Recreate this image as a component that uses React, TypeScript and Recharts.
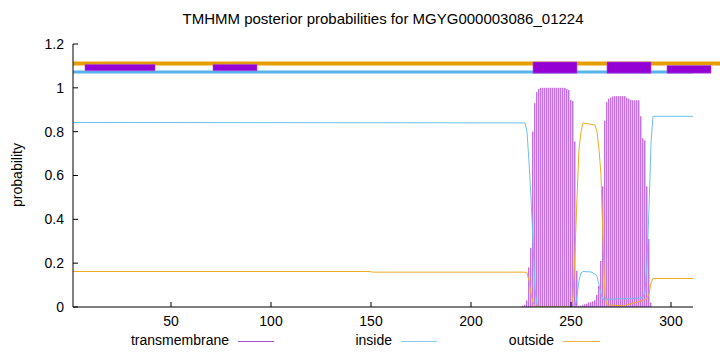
import { ComposedChart, Bar, Line, XAxis, YAxis, ReferenceArea } from 'recharts'

const TITLE = 'TMHMM posterior probabilities for MGYG000003086_01224'
const SEQ_LENGTH = 311
const xTicks = [50, 100, 150, 200, 250, 300]
const yTicks = [0, 0.2, 0.4, 0.6, 0.8, 1, 1.2]

// transmembrane posterior, one value per residue starting at TM_START
const TM_START = 226
const tmProb = [
  0.005, 0.01, 0.03, 0.18, 0.27, 0.8, 0.93, 0.98, 0.995,
  1, 1, 1, 1, 1, 1, 1, 1, 1, 1, 1, 1, 1,
  0.995, 0.99, 0.945, 0.94, 0.755, 0.165,
  0.004, 0.006, 0.01, 0.012, 0.015, 0.02, 0.022, 0.025, 0.03,
  0.055, 0.095, 0.21, 0.55, 0.85,
  0.935, 0.95, 0.955, 0.96,
  0.962, 0.962, 0.962, 0.962, 0.962, 0.962,
  0.955, 0.95, 0.945,
  0.943, 0.943, 0.943, 0.943,
  0.87, 0.77, 0.76, 0.55, 0.31, 0.02,
]

// inside / outside curves (residue, probability)
const insidePos = [1, 227, 228, 229, 230, 231, 232, 233, 234, 252, 253, 254, 255, 256, 260, 262, 263, 264, 265, 266, 284, 286, 287, 288, 289, 290, 291, 311]
const insideProb = [0.842, 0.84, 0.8, 0.66, 0.5, 0.3, 0.08, 0.01, 0, 0, 0.05, 0.12, 0.155, 0.162, 0.16, 0.15, 0.14, 0.1, 0.06, 0.035, 0.04, 0.045, 0.07, 0.2, 0.45, 0.75, 0.87, 0.87]

const outsidePos = [1, 149, 151, 227, 228, 229, 230, 231, 232, 233, 250, 251, 252, 253, 254, 255, 256, 262, 263, 264, 265, 266, 267, 268, 276, 280, 284, 286, 287, 288, 289, 290, 291, 311]
const outsideProb = [0.162, 0.162, 0.159, 0.159, 0.155, 0.12, 0.06, 0.02, 0.005, 0, 0, 0.05, 0.25, 0.5, 0.72, 0.8, 0.84, 0.83, 0.8, 0.72, 0.6, 0.3, 0.05, 0.01, 0.005, 0.015, 0.025, 0.03, 0.035, 0.04, 0.06, 0.11, 0.13, 0.13]

// topology strip above the curves: [from, to] in residues
const outsideStrip = [1, 325]
const insideStrip = [1, 311]
const minorBoxes = [[7, 42], [71, 93]]
const helixBoxes = [[231, 253], [268, 290]]
const tailBox = [298, 320]

const tmData = tmProb.map((p, i) => ({ pos: TM_START + i, tm: p }))
const insideData = insidePos.map((p, i) => ({ pos: p, inside: insideProb[i] }))
const outsideData = outsidePos.map((p, i) => ({ pos: p, outside: outsideProb[i] }))

const PURPLE = '#9400d3'
const ORANGE = '#e69f00'
const BLUE = '#56b4e9'
const FONT = '"Liberation Sans", Arial, sans-serif'

function Impulse(props: any) {
  const { x, y, width, height } = props
  if (!height || height <= 0) return <g />
  return (
    <g>
      <rect x={x} y={y} width={width} height={height} fill="#e2a9f3" />
      <rect x={x} y={y} width={width / 2} height={height} fill="#bf6ee0" />
    </g>
  )
}

const fmtY = (v: number) => (v === 0 ? '0' : v === 1 ? '1' : String(v))

export default function App() {
  return (
    <div style={{ position: 'absolute', left: 0, top: 0, width: 720, height: 352, background: '#fff', fontFamily: FONT }}>
      <div style={{ position: 'absolute', left: 73, width: 620, top: 11, textAlign: 'center', fontSize: 15, lineHeight: '16px' }}>
        {TITLE}
      </div>
      <div style={{ position: 'absolute', left: 17, top: 175, transform: 'translate(-50%, -50%) rotate(-90deg)', fontSize: 14, whiteSpace: 'nowrap' }}>
        probability
      </div>
      <ComposedChart width={720} height={352} data={tmData} margin={{ top: 44, right: 27, bottom: 20, left: 0 }}>
        <XAxis xAxisId="b" dataKey="pos" type="number" domain={[1, SEQ_LENGTH]} ticks={xTicks} allowDataOverflow
          height={25} tickSize={-5} tickMargin={14} stroke="#000" tick={{ fontSize: 14, fill: '#000' }} />
        <XAxis xAxisId="t" orientation="top" dataKey="pos" type="number" domain={[1, SEQ_LENGTH]} ticks={xTicks} allowDataOverflow
          height={0} mirror tickSize={5} stroke="#000" tickFormatter={() => ''} />
        <YAxis yAxisId="l" type="number" domain={[0, 1.2]} ticks={yTicks} allowDataOverflow width={73}
          tickSize={-5} tickMargin={14} stroke="#000" tickFormatter={fmtY} tick={{ fontSize: 14, fill: '#000' }} />
        <YAxis yAxisId="r" orientation="right" type="number" domain={[0, 1.2]} ticks={yTicks} allowDataOverflow width={0}
          mirror tickSize={5} stroke="#000" tickFormatter={() => ''} />

        <Bar xAxisId="b" yAxisId="l" dataKey="tm" barSize={2} shape={Impulse} isAnimationActive={false} />
        <Line xAxisId="b" yAxisId="l" data={insideData} dataKey="inside" type="linear" stroke="#6cc0ee" strokeWidth={1} dot={false} isAnimationActive={false} />
        <Line xAxisId="b" yAxisId="l" data={outsideData} dataKey="outside" type="linear" stroke="#eeab22" strokeWidth={1} dot={false} isAnimationActive={false} />

        <ReferenceArea xAxisId="b" yAxisId="l" x1={outsideStrip[0]} x2={outsideStrip[1]} y1={1.1023} y2={1.1206} fill={ORANGE} fillOpacity={1} stroke="none" ifOverflow="visible" />
        <ReferenceArea xAxisId="b" yAxisId="l" x1={insideStrip[0]} x2={insideStrip[1]} y1={1.0658} y2={1.0795} fill={BLUE} fillOpacity={1} stroke="none" ifOverflow="visible" />
        {minorBoxes.map(([a, b]) => (
          <ReferenceArea key={'m' + a} xAxisId="b" yAxisId="l" x1={a} x2={b} y1={1.078} y2={1.107} fill={PURPLE} fillOpacity={1} stroke="#b04ee0" strokeWidth={0.6} ifOverflow="visible" />
        ))}
        {helixBoxes.map(([a, b]) => (
          <ReferenceArea key={'h' + a} xAxisId="b" yAxisId="l" x1={a} x2={b} y1={1.067} y2={1.118} fill={PURPLE} fillOpacity={1} stroke="#b04ee0" strokeWidth={0.6} ifOverflow="visible" />
        ))}
        <ReferenceArea xAxisId="b" yAxisId="l" x1={tailBox[0]} x2={tailBox[1]} y1={1.067} y2={1.102} fill={PURPLE} fillOpacity={1} stroke="#b04ee0" strokeWidth={0.6} ifOverflow="visible" />
      </ComposedChart>

      {[
        { label: 'transmembrane', end: 229, color: '#a64fd6', x1: 238, x2: 274 },
        { label: 'inside', end: 392, color: '#8ccbed', x1: 401, x2: 437 },
        { label: 'outside', end: 554, color: '#f2b548', x1: 563, x2: 600 },
      ].map((it) => (
        <div key={it.label}>
          <div style={{ position: 'absolute', right: 720 - it.end, top: 332, fontSize: 14, lineHeight: '16px', whiteSpace: 'nowrap' }}>
            {it.label}
          </div>
          <div style={{ position: 'absolute', left: it.x1, width: it.x2 - it.x1, top: 341, height: 1, background: it.color }} />
        </div>
      ))}
    </div>
  )
}
